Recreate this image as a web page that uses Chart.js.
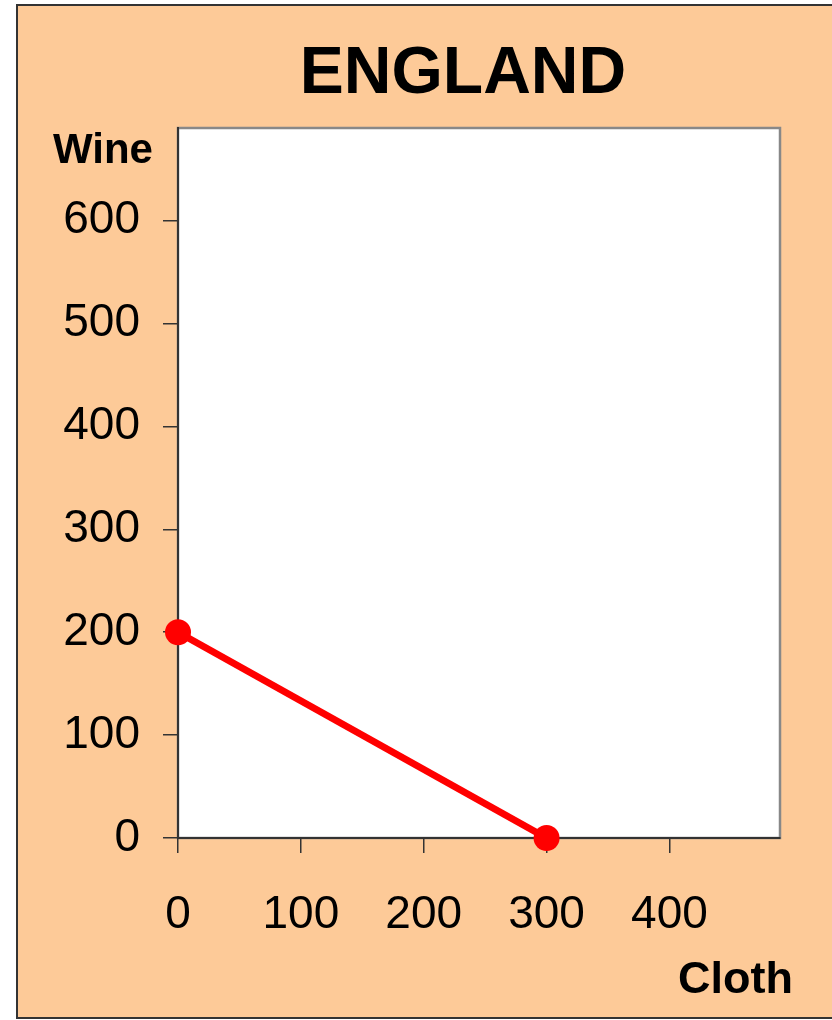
<!DOCTYPE html>
<html>
<head>
<meta charset="utf-8">
<script src="https://cdn.jsdelivr.net/npm/chart.js@4"></script>
<style>
  html, body { margin: 0; padding: 0; background: #fff; }
  #wrap { width: 832px; height: 1020px; position: relative; }
</style>
</head>
<body>
<div id="wrap"><canvas id="ppf"></canvas></div>
<script>
// production possibility frontier for England
const clothValues = [0, 300];
const wineValues = [200, 0];
const xTicks = [0, 100, 200, 300, 400];
const yTicks = [0, 100, 200, 300, 400, 500, 600];
const titleText = 'ENGLAND';
const yLabel = 'Wine';
const xLabel = 'Cloth';

const FONT = '"Liberation Sans", Arial, sans-serif';

// peach panel, white plot box and the text labels
const panelPlugin = {
    id: 'panel',
    beforeDraw(chart) {
        const ctx = chart.ctx;
        const a = chart.chartArea;
        ctx.save();
        ctx.fillStyle = '#fdca98';
        ctx.fillRect(17, 5, 840, 1013);
        ctx.strokeStyle = '#333333';
        ctx.lineWidth = 2;
        ctx.strokeRect(17, 5, 840, 1013);
        ctx.fillStyle = '#ffffff';
        ctx.fillRect(a.left, a.top, a.right - a.left, a.bottom - a.top);
        ctx.strokeStyle = '#888888';
        ctx.lineWidth = 2.5;
        ctx.strokeRect(a.left, a.top, a.right - a.left, a.bottom - a.top);
        ctx.restore();
    },
    afterDraw(chart) {
        const ctx = chart.ctx;
        ctx.save();
        ctx.fillStyle = '#000';
        ctx.textBaseline = 'alphabetic';
        ctx.font = 'bold 66px ' + FONT;
        ctx.textAlign = 'center';
        ctx.fillText(titleText, 463, 93);
        ctx.font = 'bold 42px ' + FONT;
        ctx.textAlign = 'left';
        ctx.fillText(yLabel, 53, 163);
        ctx.font = 'bold 45px ' + FONT;
        ctx.fillText(xLabel, 678, 993);
        ctx.restore();
    }
};

const pts = clothValues.map((c, i) => ({ x: c, y: wineValues[i] }));

new Chart(document.getElementById('ppf'), {
    type: 'scatter',
    data: {
        datasets: [{
            data: pts,
            showLine: true,
            borderColor: '#ff0000',
            backgroundColor: '#ff0000',
            borderWidth: 7,
            pointRadius: 13,
            pointHoverRadius: 13,
            pointBorderWidth: 0,
            clip: false
        }]
    },
    options: {
        responsive: true,
        maintainAspectRatio: false,
        animation: false,
        events: [],
        layout: { padding: { left: 0, top: 128, right: 52, bottom: 0 } },
        plugins: { legend: { display: false }, tooltip: { enabled: false } },
        scales: {
            x: {
                type: 'linear',
                min: 0,
                max: 490,
                afterBuildTicks: s => { s.ticks = xTicks.map(v => ({ value: v })); },
                afterFit: s => { s.height = 182; },
                grid: { drawOnChartArea: false, drawTicks: true, tickLength: 15, color: '#333', lineWidth: 1.5 },
                border: { display: true, color: '#333', width: 2 },
                ticks: { font: { family: FONT, size: 46 }, color: '#000', padding: 35, maxRotation: 0 }
            },
            y: {
                type: 'linear',
                min: 0,
                max: 690,
                afterBuildTicks: s => { s.ticks = yTicks.map(v => ({ value: v })); },
                afterFit: s => { s.width = 178; },
                grid: { drawOnChartArea: false, drawTicks: true, tickLength: 15, color: '#333', lineWidth: 1.5 },
                border: { display: true, color: '#333', width: 2 },
                ticks: { font: { family: FONT, size: 46 }, color: '#000', padding: 23 }
            }
        }
    },
    plugins: [panelPlugin]
});
</script>
</body>
</html>
